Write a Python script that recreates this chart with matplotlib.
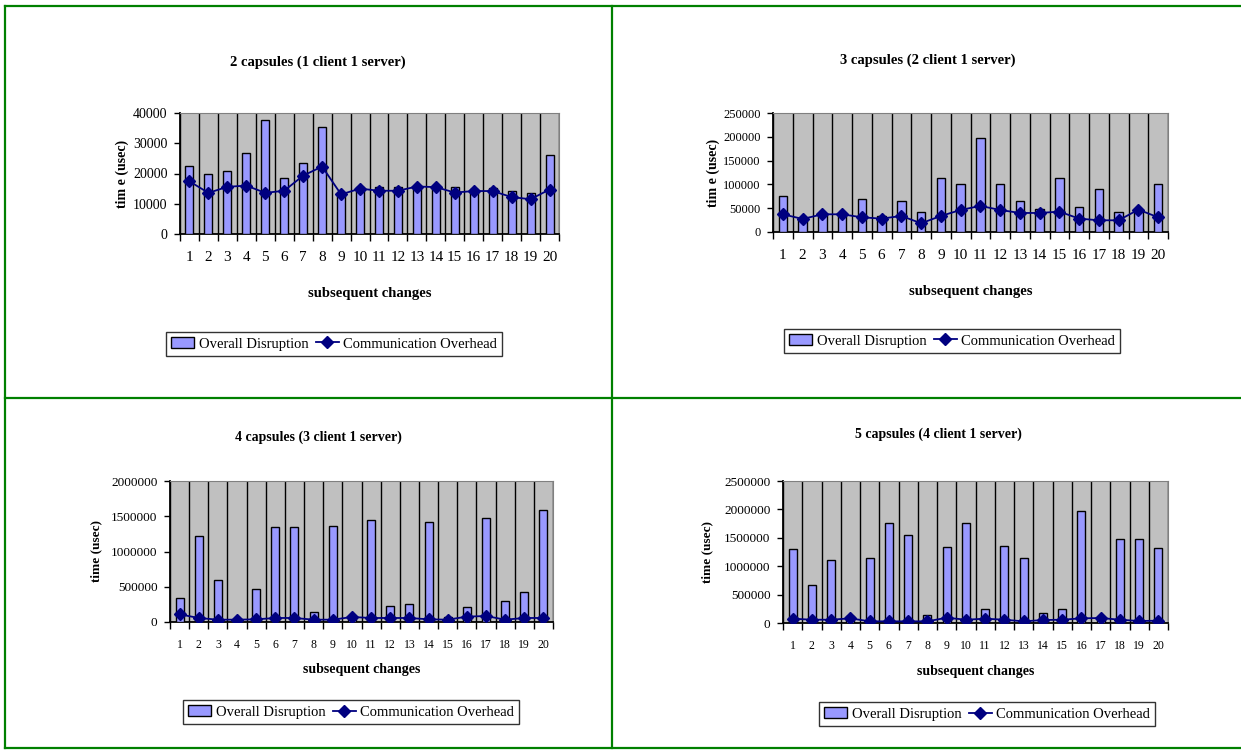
import numpy as np
import matplotlib
matplotlib.use("Agg")
import matplotlib.pyplot as plt
from matplotlib.lines import Line2D

plt.rcParams['font.family'] = ['Liberation Serif', 'DejaVu Serif']

# dados
changes = list(range(1, 21))

disrupt_2 = [22600, 19800, 20800, 26900, 37700, 18400, 23600, 35500, 13400, 15500,
             15600, 15600, 15900, 15800, 15600, 14900, 15200, 14300, 13700, 26000]
overhead_2 = [17400, 13600, 15600, 16000, 13600, 14300, 19300, 22300, 13100, 15000,
              14300, 14300, 15700, 15500, 13700, 14200, 14200, 12200, 11500, 14700]

disrupt_3 = [75800, 30000, 38500, 37500, 70200, 33700, 64600, 42800, 112400, 100400,
             197300, 100400, 64600, 49200, 112400, 52000, 91300, 42800, 46000, 100400]
overhead_3 = [37200, 27400, 37200, 37200, 30900, 28100, 33700, 18300, 33700, 46300,
              54800, 46300, 40000, 40000, 42800, 28100, 24600, 24600, 47000, 30900]

disrupt_4 = [342000, 1221000, 598000, 30000, 461000, 1344000, 1344000, 138000, 1358000, 70000,
             1449000, 223000, 256000, 1425000, 70000, 209000, 1477000, 304000, 423000, 1582000]
overhead_4 = [109000, 57000, 33000, 33000, 38000, 57000, 57000, 33000, 33000, 71000,
              57000, 57000, 57000, 38000, 33000, 76000, 85000, 33000, 57000, 57000]

disrupt_5 = [1297000, 666000, 1110000, 123000, 1151000, 1764000, 1554000, 140000, 1338000, 1764000,
             245000, 1361000, 1151000, 181000, 245000, 1974000, 88000, 1484000, 1484000, 1320000]
overhead_5 = [76000, 58000, 58000, 82000, 29000, 29000, 29000, 29000, 93000, 58000,
              76000, 58000, 29000, 52000, 58000, 82000, 88000, 58000, 35000, 41000]

W, H = 1241, 750
fig = plt.figure(figsize=(W / 100, H / 100), dpi=100)


def px_axes(l, t, r, b):
    return fig.add_axes([l / W, 1 - b / H, (r - l) / W, (b - t) / H])


def painel(box, x, bars, line, ymax, ystep, title, title_xy, ylab, ylab_x,
           xlab_y, leg_xy, xtick_fs, ytick_fs, lab_fs):
    ax = px_axes(*box)
    ax.set_facecolor('#c0c0c0')
    b = ax.bar(x, bars, width=0.42, color='#9999ff', edgecolor='black', linewidth=1,
               zorder=3)
    ln, = ax.plot(x, line, color='#000080', marker='D', markersize=6, linewidth=1.3,
                  zorder=4)
    ax.set_xlim(0.5, 20.5)
    ax.set_ylim(0, ymax)
    ax.set_yticks(np.arange(0, ymax + 1, ystep))
    ax.ticklabel_format(axis='y', style='plain', useOffset=False)
    ax.set_xticks(x)
    ax.set_xticklabels([str(i) for i in x], fontsize=xtick_fs)
    ax.set_xticks(np.arange(0.5, 21, 1), minor=True)
    ax.tick_params(axis='x', which='major', length=0, pad=12)
    ax.tick_params(axis='x', which='minor', length=5, width=1, direction='out')
    ax.tick_params(axis='y', length=4, width=1, labelsize=ytick_fs, pad=5)
    ax.grid(which='minor', axis='x', color='black', linewidth=1, zorder=1)
    ax.set_axisbelow(True)
    for s in ['top', 'right']:
        ax.spines[s].set_color('#808080')
    for s in ['left', 'bottom']:
        ax.spines[s].set_color('black')
        ax.spines[s].set_linewidth(1.3)
    fig.text(title_xy[0] / W, 1 - title_xy[1] / H, title, ha='center', va='center',
             fontsize=lab_fs, fontweight='bold')
    fig.text(ylab_x / W, 1 - (box[1] + box[3]) / 2 / H, ylab, ha='center', va='center',
             rotation=90, fontsize=lab_fs - 0.5, fontweight='bold')
    fig.text((box[0] + box[2]) / 2 / W, 1 - xlab_y / H, 'subsequent changes',
             ha='center', va='center', fontsize=lab_fs, fontweight='bold')
    leg = fig.legend([b, ln], ['Overall Disruption', 'Communication Overhead'],
                     loc='center', bbox_to_anchor=(leg_xy[0] / W, 1 - leg_xy[1] / H),
                     ncol=2, fontsize=10.5, frameon=True, fancybox=False, handlelength=1.6,
                     handletextpad=0.3, columnspacing=0.5, borderpad=0.35)
    leg.get_frame().set_edgecolor('black')
    leg.get_frame().set_linewidth(1)
    return ax


painel((180, 113, 559, 234), changes, disrupt_2, overhead_2, 40000, 10000,
       '2 capsules (1 client 1 server)', (318, 62), 'tim e (usec)', 122, 294, (334, 344),
       11, 10, 10.5)
painel((773, 113, 1168, 232), changes, disrupt_3, overhead_3, 250000, 50000,
       '3 capsules (2 client 1 server)', (928, 60), 'tim e (usec)', 713, 292, (952, 341),
       11, 9, 10.5)
painel((170, 481, 553, 622), changes, disrupt_4, overhead_4, 2000000, 500000,
       '4 capsules (3 client 1 server)', (318, 437), 'time (usec)', 96, 669, (351, 712),
       8.5, 9.5, 10)
painel((783, 481, 1168, 623), changes, disrupt_5, overhead_5, 2500000, 500000,
       '5 capsules (4 client 1 server)', (938, 434), 'time (usec)', 707, 672, (987, 714),
       8.5, 9.5, 10)

# moldura verde da tabela
verde = '#008000'
for (x0, y0, x1, y1) in [(5, 6, 1241, 6), (5, 6, 5, 748), (5, 748, 1241, 748),
                         (612, 6, 612, 748), (5, 398, 1241, 398)]:
    fig.add_artist(Line2D([x0 / W, x1 / W], [1 - y0 / H, 1 - y1 / H], color=verde,
                          linewidth=1.6, transform=fig.transFigure))

plt.savefig('out.png', dpi=100)
